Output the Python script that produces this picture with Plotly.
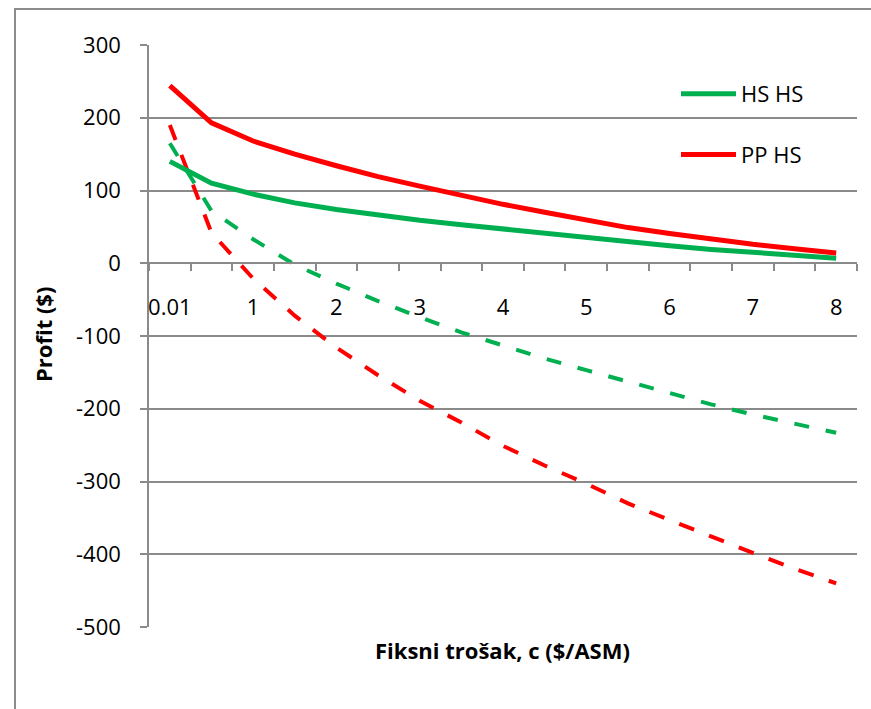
import plotly.graph_objects as go

# Fixed cost categories (equally spaced on the category axis)
categories = ["0.01", "0.5", "1", "1.5", "2", "2.5", "3", "3.5", "4",
              "4.5", "5", "5.5", "6", "6.5", "7", "7.5", "8"]
# Labels shown on every second category
tick_labels = ["0.01", "1", "2", "3", "4", "5", "6", "7", "8"]
# Profit axis ticks
y_ticks = [300, 200, 100, 0, -100, -200, -300, -400, -500]

hs_hs = [140, 110, 95, 83, 74, 66, 59, 53, 47, 41, 35, 29, 24, 19, 15, 11, 7]
pp_hs = [244, 193, 168, 150, 134, 119, 106, 93, 81, 70, 59, 49, 41, 33, 26, 20, 14]
hs_hs_dash = [165, 72, 33, -2, -28, -52, -74, -95, -113, -131, -147, -163,
              -179, -194, -208, -221, -233]
pp_hs_dash = [190, 42, -21, -72, -116, -154, -189, -219, -251, -278, -303,
              -330, -353, -376, -398, -420, -440]

GREEN = "#00B050"
RED = "#FF0000"
GRID = "#8a8a8a"
FONT = "Open Sans"

idx = list(range(len(categories)))

fig = go.Figure()
fig.add_trace(go.Scatter(x=idx, y=hs_hs_dash, mode="lines", name="HS HS",
                         line=dict(color=GREEN, width=4, dash="15px,17px"),
                         showlegend=False, hoverinfo="skip"))
fig.add_trace(go.Scatter(x=idx, y=pp_hs_dash, mode="lines", name="PP HS",
                         line=dict(color=RED, width=4, dash="16px,16px"),
                         showlegend=False, hoverinfo="skip"))
fig.add_trace(go.Scatter(x=idx, y=hs_hs, mode="lines", name="HS HS",
                         legendgroup="a",
                         line=dict(color=GREEN, width=5)))
fig.add_trace(go.Scatter(x=idx, y=pp_hs, mode="lines", name="PP HS",
                         legendgroup="b",
                         line=dict(color=RED, width=5)))

W, H = 871, 709
L, R, T, B = 149, 14, 45, 82
pw, ph = W - L - R, H - T - B


def px_x(px):
    return (px - L) / pw


def px_y(py):
    return (H - B - py) / ph


fig.update_layout(
    width=W, height=H,
    margin=dict(l=L, r=R, t=T, b=B, pad=0),
    paper_bgcolor="white", plot_bgcolor="white",
    font=dict(family=FONT, size=22, color="black"),
    showlegend=True,
    legend=dict(x=px_x(676), y=px_y(73), xanchor="left", yanchor="top",
                bgcolor="rgba(0,0,0,0)", borderwidth=0,
                tracegroupgap=29, itemwidth=55,
                font=dict(family=FONT, size=22, color="black")),
    xaxis=dict(
        range=[-0.5, 16.5],
        anchor="free", position=0.625,
        tickmode="array",
        tickvals=[categories.index(t) for t in tick_labels],
        ticktext=tick_labels,
        ticks="", showgrid=False, zeroline=False,
        showline=True, linecolor=GRID, linewidth=1.5,
        ticklabelstandoff=25,
        tickfont=dict(family=FONT, size=22, color="black"),
        minor=dict(tickmode="linear", tick0=-0.5, dtick=1, ticks="outside",
                   ticklen=7, tickwidth=1.5, tickcolor=GRID, showgrid=False),
    ),
    yaxis=dict(
        range=[-500, 300],
        tickmode="array", tickvals=y_ticks,
        ticktext=[str(v) for v in y_ticks],
        ticks="outside", ticklen=7, tickwidth=1.5, tickcolor=GRID,
        showline=True, linecolor=GRID, linewidth=1.5,
        showgrid=True, gridcolor=GRID, gridwidth=1.5,
        zeroline=False,
        ticklabelstandoff=15,
        tickfont=dict(family=FONT, size=22, color="black"),
    ),
    annotations=[
        dict(text="<b>Profit ($)</b>", xref="paper", yref="paper",
             x=px_x(43), y=px_y(335), xanchor="center", yanchor="middle",
             textangle=-90, showarrow=False,
             font=dict(family=FONT, size=22, color="black")),
        dict(text="<b>Fiksni trošak, c ($/ASM)</b>", xref="paper", yref="paper",
             x=px_x(502), y=px_y(650), xanchor="center", yanchor="middle",
             showarrow=False,
             font=dict(family=FONT, size=22, color="black")),
    ],
    shapes=[
        dict(type="rect", xref="paper", yref="paper", layer="below",
             x0=px_x(15), x1=px_x(890), y0=px_y(730), y1=px_y(9),
             line=dict(color="#8c8c8c", width=2), fillcolor="rgba(0,0,0,0)"),
    ],
)

fig.write_html("out.html")
